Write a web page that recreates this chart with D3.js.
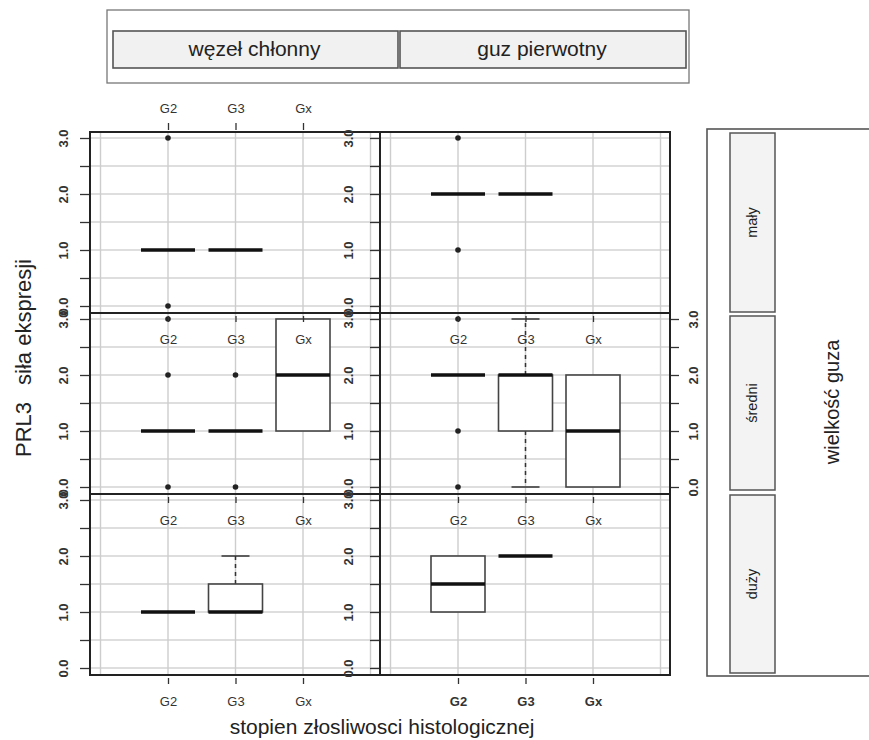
<!DOCTYPE html>
<html>
<head>
<meta charset="utf-8">
<script src="https://cdn.jsdelivr.net/npm/d3@7"></script>
<style>
  html, body { margin: 0; padding: 0; background: #fff; }
  svg { display: block; font-family: "Liberation Sans", Arial, sans-serif; }
</style>
</head>
<body>
<svg id="chart" width="869" height="740"></svg>
<script>
// ---------------- data ----------------
const grades = ["G2", "G3", "Gx"];
const sites = ["węzeł chłonny", "guz pierwotny"];
const sizes = ["mały", "średni", "duży"];
const yTicks = [0, 0.5, 1, 1.5, 2, 2.5, 3];
const yTickLabels = ["0.0", "", "1.0", "", "2.0", "", "3.0"];
const xTitle = "stopien złosliwosci histologicznej";
const yTitleParts = ["PRL3", "siła ekspresji"];
const stripTitle = "wielkość guza";

// five-number summaries per grade: [lower whisker, Q1, median, Q3, upper whisker]; null = no data
const malyWezel   = [[1, 1, 1, 1, 1], [1, 1, 1, 1, 1], null];
const malyGuz     = [[2, 2, 2, 2, 2], [2, 2, 2, 2, 2], null];
const sredniWezel = [[1, 1, 1, 1, 1], [1, 1, 1, 1, 1], [1, 1, 2, 3, 3]];
const sredniGuz   = [[2, 2, 2, 2, 2], [0, 1, 2, 2, 3], [0, 0, 1, 2, 2]];
const duzyWezel   = [[1, 1, 1, 1, 1], [1, 1, 1, 1.5, 2], null];
const duzyGuz     = [[1, 1, 1.5, 2, 2], [2, 2, 2, 2, 2], null];

// outliers per grade
const malyWezelOut   = [[3, 0], [], []];
const malyGuzOut     = [[3, 1], [], []];
const sredniWezelOut = [[3, 2, 0], [2, 0], []];
const sredniGuzOut   = [[3, 1, 0], [], []];
const duzyWezelOut   = [[], [], []];
const duzyGuzOut     = [[], [], []];

const panelStats = [[malyWezel, malyGuz], [sredniWezel, sredniGuz], [duzyWezel, duzyGuz]];
const panelOut = [[malyWezelOut, malyGuzOut], [sredniWezelOut, sredniGuzOut], [duzyWezelOut, duzyGuzOut]];

// ---------------- layout ----------------
const svg = d3.select("#chart");
const colLeft = [90, 380], colW = 290;
const rowTop = [132, 313, 494], rowH = 181;
const boxW = 54, capW = 28;

const xScales = colLeft.map(l => d3.scaleLinear().domain([0, 4]).range([l + 10.5, l + 280.5]));
const yScales = rowTop.map(t => d3.scaleLinear().domain([0, 3]).range([t + 174, t + 6]));

const panels = [];
for (let r = 0; r < 3; r++) for (let c = 0; c < 2; c++) panels.push({ r, c });

// grids
const gGrid = svg.append("g");
panels.forEach(({ r, c }) => {
  const x = xScales[c], y = yScales[r];
  const L = colLeft[c], T = rowTop[r];
  const g = gGrid.append("g");
  g.selectAll("line.h").data(yTicks).join("line")
    .attr("x1", L + 1).attr("x2", L + colW - 1)
    .attr("y1", d => y(d)).attr("y2", d => y(d))
    .attr("stroke", "#d3d3d3").attr("stroke-width", 1.4);
  g.selectAll("line.v").data([0, 1, 2, 3, 4]).join("line")
    .attr("x1", d => x(d)).attr("x2", d => x(d))
    .attr("y1", T + 1).attr("y2", T + rowH - 1)
    .attr("stroke", "#cdcdcd").attr("stroke-width", 1.4);
});

// boxplots
const gBox = svg.append("g");
panels.forEach(({ r, c }) => {
  const x = xScales[c], y = yScales[r];
  const stats = panelStats[r][c], outs = panelOut[r][c];
  stats.forEach((s, i) => {
    if (!s) return;
    const cx = x(i + 1);
    const [lo, q1, med, q3, hi] = s;
    const g = gBox.append("g");
    if (hi > q3) {
      g.append("line").attr("x1", cx).attr("x2", cx).attr("y1", y(q3)).attr("y2", y(hi))
        .attr("stroke", "#333").attr("stroke-width", 1.5).attr("stroke-dasharray", "4,4");
      g.append("line").attr("x1", cx - capW / 2).attr("x2", cx + capW / 2).attr("y1", y(hi)).attr("y2", y(hi))
        .attr("stroke", "#333").attr("stroke-width", 1.5);
    }
    if (lo < q1) {
      g.append("line").attr("x1", cx).attr("x2", cx).attr("y1", y(q1)).attr("y2", y(lo))
        .attr("stroke", "#333").attr("stroke-width", 1.5).attr("stroke-dasharray", "4,4");
      g.append("line").attr("x1", cx - capW / 2).attr("x2", cx + capW / 2).attr("y1", y(lo)).attr("y2", y(lo))
        .attr("stroke", "#333").attr("stroke-width", 1.5);
    }
    g.append("rect").attr("x", cx - boxW / 2).attr("width", boxW)
      .attr("y", y(q3)).attr("height", Math.max(0, y(q1) - y(q3)))
      .attr("fill", "#fff").attr("stroke", "#444").attr("stroke-width", 1.6);
    g.append("line").attr("x1", cx - boxW / 2).attr("x2", cx + boxW / 2)
      .attr("y1", y(med)).attr("y2", y(med))
      .attr("stroke", "#111").attr("stroke-width", 3.5);
    g.selectAll("circle").data(outs[i]).join("circle")
      .attr("cx", cx).attr("cy", d => y(d)).attr("r", 2.8).attr("fill", "#222");
  });
});

// borders
panels.forEach(({ r, c }) => {
  svg.append("rect").attr("x", colLeft[c]).attr("y", rowTop[r]).attr("width", colW).attr("height", rowH)
    .attr("fill", "none").attr("stroke", "#222").attr("stroke-width", 2);
});

// axes
const fmtY = d => yTickLabels[yTicks.indexOf(d)];
function styleAxis(g) {
  g.select(".domain").remove();
  g.selectAll(".tick line").attr("stroke", "#333").attr("stroke-width", 1.3);
  g.selectAll("text").attr("fill", "#333");
}
function rotLabels(g, offset) {
  g.attr("font-size", 13);
  g.selectAll(".tick text")
    .attr("transform", "rotate(-90)")
    .attr("x", 0).attr("y", offset).attr("dy", "0.35em")
    .attr("text-anchor", "middle")
    .attr("font-size", 13).attr("font-weight", "bold");
}
for (let r = 0; r < 3; r++) {
  const gl = svg.append("g").attr("transform", `translate(${colLeft[0] - 1},0)`)
    .call(d3.axisLeft(yScales[r]).tickValues(yTicks).tickFormat(fmtY).tickSize(9));
  styleAxis(gl); rotLabels(gl, -26);
  const gr = svg.append("g").attr("transform", `translate(${colLeft[1] - 1},0)`)
    .call(d3.axisLeft(yScales[r]).tickValues(yTicks).tickFormat(fmtY).tickSize(9));
  styleAxis(gr); rotLabels(gr, -31);
}
{
  const ga = svg.append("g").attr("transform", `translate(${colLeft[1] + colW + 1},0)`)
    .call(d3.axisRight(yScales[1]).tickValues(yTicks).tickFormat(fmtY).tickSize(8));
  styleAxis(ga);
  ga.attr("font-size", 13);
  ga.selectAll(".tick text")
    .attr("transform", "rotate(-90)")
    .attr("x", 0).attr("y", 22).attr("dy", "0.35em")
    .attr("text-anchor", "middle").attr("font-size", 13).attr("font-weight", "bold");
}
panels.forEach(({ r, c }) => {
  const yb = rowTop[r] + rowH + 3;
  const g = svg.append("g").attr("transform", `translate(0,${yb})`)
    .call(d3.axisBottom(xScales[c]).tickValues([1, 2, 3]).tickFormat(d => grades[d - 1]).tickSize(6).tickPadding(13));
  styleAxis(g);
  g.attr("font-size", 13);
  g.selectAll(".tick text").attr("font-size", 13)
    .attr("font-weight", (r === 2 && c === 1) ? "bold" : "normal");
});
{
  const g = svg.append("g").attr("transform", `translate(0,${rowTop[0] - 2})`)
    .call(d3.axisTop(xScales[0]).tickValues([1, 2, 3]).tickFormat(d => grades[d - 1]).tickSize(7).tickPadding(10));
  styleAxis(g);
  g.attr("font-size", 13);
  g.selectAll(".tick text").attr("font-size", 13);
}

// top strips
svg.append("rect").attr("x", 107).attr("y", 10).attr("width", 582).attr("height", 73)
  .attr("fill", "none").attr("stroke", "#777").attr("stroke-width", 1.3);
const stripX = [[113, 398], [400, 686]];
sites.forEach((s, i) => {
  svg.append("rect").attr("x", stripX[i][0]).attr("y", 31)
    .attr("width", stripX[i][1] - stripX[i][0]).attr("height", 37)
    .attr("fill", "#f1f1f1").attr("stroke", "#555").attr("stroke-width", 1.6);
  svg.append("text").attr("x", (stripX[i][0] + stripX[i][1]) / 2 - 1).attr("y", 49)
    .attr("dy", "0.35em").attr("text-anchor", "middle")
    .attr("font-size", 21).attr("fill", "#222").text(s);
});

// right strips
svg.append("rect").attr("x", 707).attr("y", 129).attr("width", 180).attr("height", 547)
  .attr("fill", "none").attr("stroke", "#555").attr("stroke-width", 1.6);
const stripY = [[133, 312], [316, 490], [495, 673]];
sizes.forEach((s, i) => {
  svg.append("rect").attr("x", 730).attr("y", stripY[i][0])
    .attr("width", 45).attr("height", stripY[i][1] - stripY[i][0])
    .attr("fill", "#f3f3f3").attr("stroke", "#555").attr("stroke-width", 1.5);
  const cy = (stripY[i][0] + stripY[i][1]) / 2;
  svg.append("text").attr("transform", `translate(752,${cy}) rotate(-90)`)
    .attr("dy", "0.35em").attr("text-anchor", "middle")
    .attr("font-size", 14.5).attr("fill", "#222").text(s);
});
svg.append("text").attr("transform", "translate(832,402) rotate(-90)")
  .attr("dy", "0.35em").attr("text-anchor", "middle")
  .attr("font-size", 20).attr("fill", "#222").text(stripTitle);

// axis titles
svg.append("text").attr("x", 382).attr("y", 727).attr("dy", "0.35em")
  .attr("text-anchor", "middle").attr("font-size", 21).attr("fill", "#222").text(xTitle);
const yt = svg.append("text").attr("transform", "translate(31,457) rotate(-90)")
  .attr("text-anchor", "start").attr("font-size", 22).attr("fill", "#222");
yt.append("tspan").text(yTitleParts[0]);
yt.append("tspan").attr("dx", 17).text(yTitleParts[1]);
</script>
</body>
</html>
